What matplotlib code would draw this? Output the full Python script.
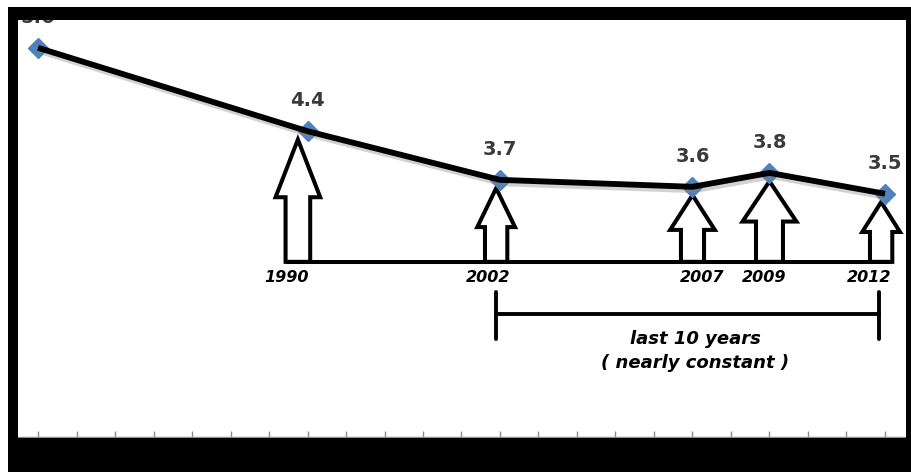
import matplotlib.pyplot as plt
import matplotlib.patheffects as pe
from matplotlib import patches

# series: position on the category axis and value
positions = [0, 7, 12, 17, 19, 22]
values = [5.6, 4.4, 3.7, 3.6, 3.8, 3.5]
value_labels = ["5.6", "4.4", "3.7", "3.6", "3.8", "3.5"]

# highlighted years (all points but the first)
years = ["1990", "2002", "2007", "2009", "2012"]
year_idx = [1, 2, 3, 4, 5]

# block arrow shapes: x shift, shaft half width, head half width, head length
arrow_dx = [-0.25, -0.1, 0.0, 0.0, -0.1]
shaft_hw = [0.32, 0.29, 0.30, 0.35, 0.29]
head_hw = [0.58, 0.49, 0.58, 0.70, 0.49]
head_len = [0.83, 0.56, 0.50, 0.58, 0.43]
label_dx = [-0.3, -0.2, 0.25, -0.15, -0.3]

BASE_Y = 2.52
TIP_GAP = 0.12

W, H = 911, 472
fig = plt.figure(figsize=(W / 100, H / 100), dpi=100)
fig.patch.set_facecolor("white")
ax = fig.add_axes([18 / W, 1 - 437 / H, 887 / W, 417 / H])
ax.set_xlim(-0.52, 22.52)
ax.set_ylim(0, 6)

for s in ("left", "right", "top"):
    ax.spines[s].set_visible(False)
ax.spines["bottom"].set_color("#8c8c8c")
ax.spines["bottom"].set_linewidth(1.0)
ax.set_yticks([])
ax.set_xticks(range(23))
ax.set_xticklabels([])
ax.tick_params(axis="x", direction="in", length=4, width=1, color="#8c8c8c")

# main line with a soft shadow
ax.plot(positions, values, color="#4F81BD", marker="D", markersize=10,
        linestyle="none", zorder=3, clip_on=False)
ax.plot(positions, values, color="black", linewidth=4.2, solid_capstyle="butt",
        zorder=4, clip_on=False,
        path_effects=[pe.SimpleLineShadow(offset=(1.5, -2.5), shadow_color="gray", alpha=0.35),
                      pe.Normal()])

for x, v, t in zip(positions, values, value_labels):
    ax.annotate(t, (x, v), xytext=(0, 22), textcoords="offset points",
                ha="center", va="center", fontsize=14, fontweight="bold",
                color="#3a3a3a", annotation_clip=False, zorder=5)

# hollow block arrows pointing up at the highlighted years
for k, i in enumerate(year_idx):
    cx = positions[i] + arrow_dx[k]
    tip = values[i] - TIP_GAP
    hb = tip - head_len[k]
    sw, hw = shaft_hw[k], head_hw[k]
    pts = [(cx - sw, BASE_Y), (cx - sw, hb), (cx - hw, hb), (cx, tip),
           (cx + hw, hb), (cx + sw, hb), (cx + sw, BASE_Y)]
    ax.add_patch(patches.Polygon(pts, closed=True, facecolor="white",
                                 edgecolor="black", linewidth=2.9,
                                 joinstyle="miter", zorder=2))
    ax.annotate(years[k], (cx + label_dx[k], BASE_Y), xytext=(0, -11),
                textcoords="offset points", ha="center", va="center",
                fontsize=11.5, fontweight="bold", fontstyle="italic",
                color="black")

# baseline joining the arrows
first = positions[year_idx[0]] + arrow_dx[0] - shaft_hw[0]
last = positions[year_idx[-1]] + arrow_dx[-1] + shaft_hw[-1]
ax.plot([first, last], [BASE_Y, BASE_Y], color="black", linewidth=2.9,
        solid_capstyle="butt", zorder=2)

# bracket for the last ten years
bx0 = positions[2] + arrow_dx[1]
bx1 = positions[5] + arrow_dx[4] - 0.05
ax.plot([bx0, bx1], [1.77, 1.77], color="black", linewidth=2.8, zorder=2)
for bx in (bx0, bx1):
    ax.plot([bx, bx], [1.41, 2.08], color="black", linewidth=2.8,
            solid_capstyle="round", zorder=2)
mid = (bx0 + bx1) / 2 + 0.2
ax.text(mid, 1.41, "last 10 years", ha="center", va="center", fontsize=13,
        fontweight="bold", fontstyle="italic", color="black")
ax.text(mid, 1.06, "( nearly constant )", ha="center", va="center", fontsize=13,
        fontweight="bold", fontstyle="italic", color="black")

# black frame around the plot area
frame = [(8, 7, W - 8, 13), (8, 7, 10, H - 7), (906, 7, W - 906, H - 7), (8, 438, W - 8, H - 438)]
for x0, y0, w, h in frame:
    fig.add_artist(patches.Rectangle((x0 / W, 1 - (y0 + h) / H), w / W, h / H,
                                     transform=fig.transFigure, facecolor="black",
                                     edgecolor="none", zorder=10))

fig.savefig("out.png", dpi=100, facecolor="white")
